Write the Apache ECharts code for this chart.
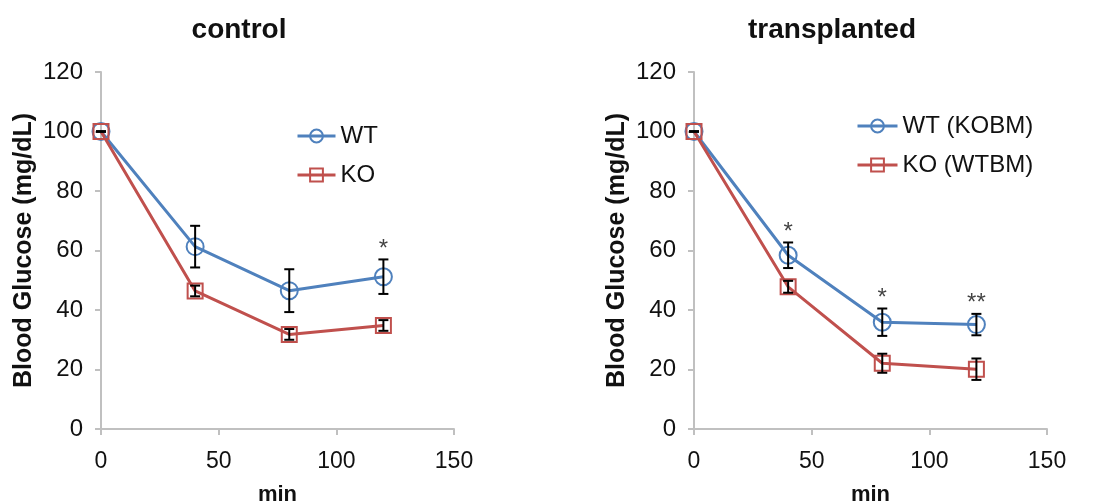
<!DOCTYPE html>
<html>
<head>
<meta charset="utf-8">
<script src="https://cdn.jsdelivr.net/npm/echarts@6/dist/echarts.min.js"></script>
<style>
  html, body { margin: 0; padding: 0; background: #fff; }
  #main { width: 1098px; height: 504px; }
</style>
</head>
<body>
<div id="main"></div>
<script>
// time points (min)
var times = [0, 40, 80, 120];

// control panel
var ctrlWT = [100, 61.3, 46.5, 51.2];
var ctrlWTErr = [0, 7.0, 7.2, 5.8];
var ctrlKO = [100, 46.4, 31.8, 34.8];
var ctrlKOErr = [0, 1.8, 1.8, 1.8];
var ctrlStars = ['', '', '', '*'];

// transplanted panel
var trWT = [100, 58.4, 35.9, 35.1];
var trWTErr = [0, 4.3, 4.6, 3.6];
var trKO = [100, 47.8, 22.1, 20.1];
var trKOErr = [0, 2.0, 3.2, 3.6];
var trStars = ['', '*', '*', '**'];

var blue = '#4f81bd';
var red = '#c0504d';
var font = 'Liberation Sans, Arial, sans-serif';

function pairs(xs, ys) {
    return xs.map(function (x, i) { return [x, ys[i]]; });
}

function errData(xs, ys, es) {
    return xs.map(function (x, i) { return [x, ys[i] - es[i], ys[i] + es[i]]; });
}

// error bars with caps
function renderErr(params, api) {
    var x = api.value(0);
    var lo = api.coord([x, api.value(1)]);
    var hi = api.coord([x, api.value(2)]);
    var w = 5;
    var st = { stroke: '#000', lineWidth: 2 };
    return {
        type: 'group',
        children: [
            { type: 'line', shape: { x1: hi[0], y1: hi[1], x2: lo[0], y2: lo[1] }, style: st },
            { type: 'line', shape: { x1: hi[0] - w, y1: hi[1], x2: hi[0] + w, y2: hi[1] }, style: st },
            { type: 'line', shape: { x1: lo[0] - w, y1: lo[1], x2: lo[0] + w, y2: lo[1] }, style: st }
        ]
    };
}

function xAxisFor(gi) {
    return {
        gridIndex: gi, type: 'value', min: 0, max: 150, interval: 50,
        name: 'min', nameLocation: 'middle', nameGap: 55,
        nameTextStyle: { fontFamily: font, fontWeight: 'bold', fontSize: 22, color: '#111' },
        axisLine: { show: true, onZero: false, lineStyle: { color: '#c0c0c0', width: 2 } },
        axisTick: { show: true, inside: false, length: 6, lineStyle: { color: '#c0c0c0', width: 2 } },
        axisLabel: { fontFamily: font, fontSize: 23, color: '#111', margin: 21 },
        splitLine: { show: false }
    };
}

function yAxisFor(gi) {
    return {
        gridIndex: gi, type: 'value', min: 0, max: 120, interval: 20,
        name: 'Blood Glucose (mg/dL)', nameLocation: 'middle', nameGap: 64,
        nameTextStyle: { fontFamily: font, fontWeight: 'bold', fontSize: 25, color: '#111' },
        axisLine: { show: true, lineStyle: { color: '#c0c0c0', width: 2 } },
        axisTick: { show: true, inside: false, length: 6, lineStyle: { color: '#c0c0c0', width: 2 } },
        axisLabel: { fontFamily: font, fontSize: 24, color: '#111', margin: 18 },
        splitLine: { show: false }
    };
}

function lineSeries(name, gi, ys, color, symbol) {
    return {
        name: name, type: 'line', xAxisIndex: gi, yAxisIndex: gi,
        data: pairs(times, ys),
        symbol: symbol, symbolSize: symbol === 'circle' ? 17 : 15,
        lineStyle: { color: color, width: 3 },
        itemStyle: { color: 'transparent', borderColor: color, borderWidth: 2 },
        z: 2
    };
}

function errSeries(gi, ys, es) {
    return {
        type: 'custom', xAxisIndex: gi, yAxisIndex: gi,
        data: errData(times, ys, es),
        renderItem: renderErr, z: 5, silent: true
    };
}

function starSeries(gi, ys, es, stars) {
    var d = [];
    times.forEach(function (x, i) {
        if (stars[i]) d.push({ value: [x, ys[i] + es[i]], label: { formatter: stars[i] } });
    });
    return {
        type: 'scatter', xAxisIndex: gi, yAxisIndex: gi, data: d,
        symbolSize: 0, silent: true,
        label: { show: true, position: 'top', distance: -2, fontFamily: font, fontSize: 24, color: '#111' }
    };
}

var legendText = { fontFamily: font, fontSize: 24, color: '#111' };

var option = {
    backgroundColor: '#fff',
    animation: false,
    title: [
        { text: 'control', left: 234, top: 11, textAlign: 'center',
          textStyle: { fontFamily: font, fontWeight: 'bold', fontSize: 28, color: '#111' } },
        { text: 'transplanted', left: 827, top: 11, textAlign: 'center',
          textStyle: { fontFamily: font, fontWeight: 'bold', fontSize: 28, color: '#111' } }
    ],
    legend: [
        { data: ['WT', 'KO'], orient: 'vertical', left: 291, top: 119, itemGap: 15,
          itemWidth: 38, itemHeight: 16, lineStyle: { width: 3 }, textStyle: legendText },
        { data: ['WT (KOBM)', 'KO (WTBM)'], orient: 'vertical', left: 851, top: 109, itemGap: 15,
          itemWidth: 40, itemHeight: 16, lineStyle: { width: 3 }, textStyle: legendText }
    ],
    grid: [
        { left: 101, top: 72, width: 353, height: 357, outerBoundsMode: 'none' },
        { left: 694, top: 72, width: 353, height: 357, outerBoundsMode: 'none' }
    ],
    xAxis: [xAxisFor(0), xAxisFor(1)],
    yAxis: [yAxisFor(0), yAxisFor(1)],
    series: [
        lineSeries('WT', 0, ctrlWT, blue, 'circle'),
        lineSeries('KO', 0, ctrlKO, red, 'rect'),
        errSeries(0, ctrlWT, ctrlWTErr),
        errSeries(0, ctrlKO, ctrlKOErr),
        starSeries(0, ctrlWT, ctrlWTErr, ctrlStars),
        lineSeries('WT (KOBM)', 1, trWT, blue, 'circle'),
        lineSeries('KO (WTBM)', 1, trKO, red, 'rect'),
        errSeries(1, trWT, trWTErr),
        errSeries(1, trKO, trKOErr),
        starSeries(1, trWT, trWTErr, trStars)
    ]
};

var chart = echarts.init(document.getElementById('main'));
chart.setOption(option);
</script>
</body>
</html>
